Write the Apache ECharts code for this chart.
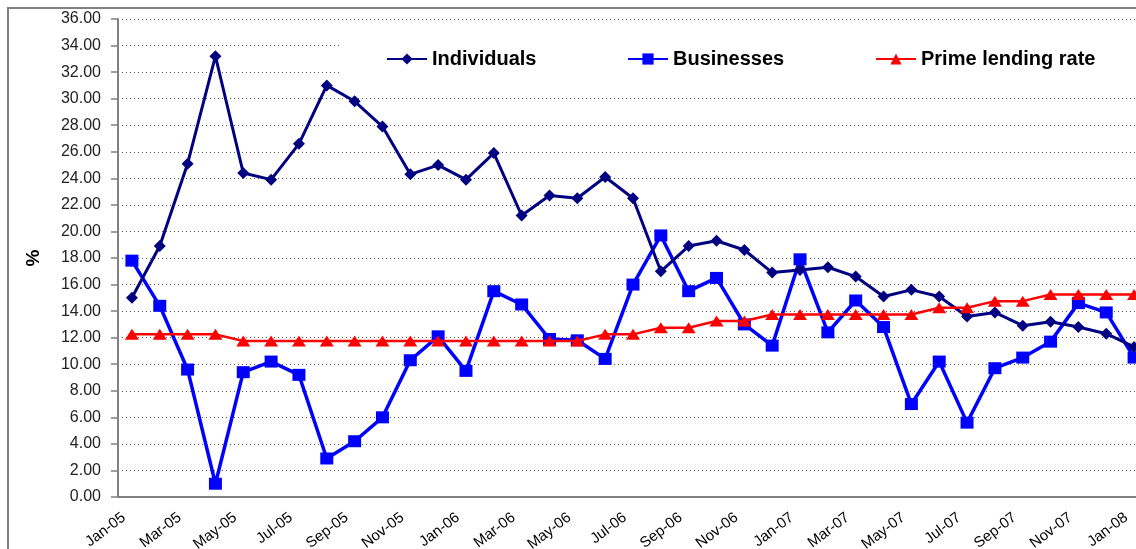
<!DOCTYPE html>
<html>
<head>
<meta charset="utf-8">
<script src="https://cdn.jsdelivr.net/npm/echarts@6/dist/echarts.min.js"></script>
<style>html,body{margin:0;padding:0;background:#fff;}#c{width:1136px;height:549px;}</style>
</head>
<body>
<div id="c"></div>
<script>
const categories = ['Jan-05','Feb-05','Mar-05','Apr-05','May-05','Jun-05','Jul-05','Aug-05','Sep-05','Oct-05','Nov-05','Dec-05',
 'Jan-06','Feb-06','Mar-06','Apr-06','May-06','Jun-06','Jul-06','Aug-06','Sep-06','Oct-06','Nov-06','Dec-06',
 'Jan-07','Feb-07','Mar-07','Apr-07','May-07','Jun-07','Jul-07','Aug-07','Sep-07','Oct-07','Nov-07','Dec-07','Jan-08'];
const individuals = [15.0,18.9,25.1,33.2,24.4,23.9,26.6,31.0,29.8,27.9,24.3,25.0,
 23.9,25.9,21.2,22.7,22.5,24.1,22.5,17.0,18.9,19.3,18.6,16.9,
 17.1,17.3,16.6,15.1,15.6,15.1,13.6,13.9,12.9,13.2,12.8,12.3,11.3];
const businesses = [17.8,14.4,9.6,1.0,9.4,10.2,9.2,2.9,4.2,6.0,10.3,12.1,
 9.5,15.5,14.5,11.9,11.8,10.4,16.0,19.7,15.5,16.5,13.0,11.4,
 17.9,12.4,14.8,12.8,7.0,10.2,5.6,9.7,10.5,11.7,14.6,13.9,10.5];
const prime = [12.25,12.25,12.25,12.25,11.75,11.75,11.75,11.75,11.75,11.75,11.75,11.75,
 11.75,11.75,11.75,11.75,11.75,12.25,12.25,12.75,12.75,13.25,13.25,13.75,
 13.75,13.75,13.75,13.75,13.75,14.25,14.25,14.75,14.75,15.25,15.25,15.25,15.25];
const seriesNames = ['Individuals','Businesses','Prime lending rate'];

const chart = echarts.init(document.getElementById('c'), null, {renderer:'canvas'});
const FONT = '"Liberation Sans", Arial, sans-serif';
const legendCommon = {
  top: 44, itemWidth: 40, itemHeight: 14, itemGap: 0,
  textStyle: {fontFamily: FONT, fontSize: 20, fontWeight: 'bold', color: '#000', padding:[0,0,0,0]},
  selectedMode: false
};
chart.setOption({
  animation: false,
  backgroundColor: '#fff',
  graphic: {elements: [
    {type:'rect', shape:{x:8, y:8, width:1200, height:600}, style:{fill:'none', stroke:'#808080', lineWidth:2}, z:0},
    {type:'rect', shape:{x:341, y:30, width:820, height:57}, style:{fill:'#fff'}, z:1, silent:true}
  ]},
  legend: [
    Object.assign({left: 381, data: [seriesNames[0]]}, legendCommon),
    Object.assign({left: 622, data: [seriesNames[1]]}, legendCommon),
    Object.assign({left: 870, data: [seriesNames[2]]}, legendCommon)
  ],
  grid: {left: 118, top: 19, bottom: 52, right: -12, containLabel: false, outerBoundsMode: 'none'},
  xAxis: {
    type: 'category', data: categories, boundaryGap: true,
    axisLine: {lineStyle: {color: '#808080', width: 2}},
    axisTick: {interval: 1, length: 6, lineStyle: {color: '#808080', width: 1.5}},
    axisLabel: {interval: 1, rotate: 37, margin: 13, padding: [0, 10, 0, 0],
      fontFamily: FONT, fontSize: 15, color: '#000'},
    splitLine: {show: false}
  },
  yAxis: {
    type: 'value', min: 0, max: 36, interval: 2,
    name: '%', nameLocation: 'middle', nameRotate: 90, nameGap: 75,
    nameTextStyle: {fontFamily: FONT, fontSize: 19, fontWeight: 'bold', color: '#000'},
    axisLine: {show: true, lineStyle: {color: '#808080', width: 2}},
    axisTick: {show: true, length: 7, lineStyle: {color: '#808080', width: 1.5}},
    axisLabel: {fontFamily: FONT, fontSize: 16, color: '#222', margin: 17,
      formatter: v => v.toFixed(2)},
    splitLine: {show: true, lineStyle: {color: '#555', type: [1,3], width: 1}}
  },
  series: [
    {name: seriesNames[0], type: 'line', data: individuals, z: 3,
     symbol: 'diamond', symbolSize: [12,12], itemStyle: {color: '#000080'},
     lineStyle: {color: '#000080', width: 3}},
    {name: seriesNames[1], type: 'line', data: businesses, z: 2,
     symbol: 'rect', symbolSize: [13,12], itemStyle: {color: '#0000FF'},
     lineStyle: {color: '#0000FF', width: 3.5}},
    {name: seriesNames[2], type: 'line', data: prime, z: 4,
     symbol: 'triangle', symbolSize: [14,11], itemStyle: {color: '#FF0000'},
     lineStyle: {color: '#FF0000', width: 2.5}}
  ]
});
</script>
</body>
</html>
